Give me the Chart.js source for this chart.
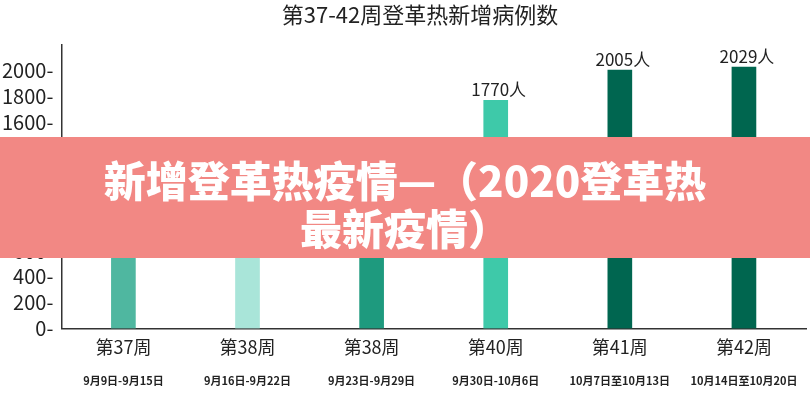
<!DOCTYPE html>
<html><head><meta charset="utf-8">
<script src="https://cdn.jsdelivr.net/npm/chart.js@4"></script>
<style>body{margin:0;background:#fff}#w{width:810px;height:400px}</style>
</head><body><div id="w"><canvas id="c"></canvas></div>
<script>
const weeks = ['第37周','第38周','第38周','第40周','第41周','第42周'];
const dates = ['9月9日-9月15日','9月16日-9月22日','9月23日-9月29日','9月30日-10月6日','10月7日至10月13日','10月14日至10月20日'];
const cases = [1181, 1265, 1330, 1770, 2005, 2029];
const colors = ['#4fb7a0','#a9e5d9','#1e9a7e','#3ec9a9','#006650','#00664f'];
const tickVals = [0,200,400,600,800,1000,1200,1400,1600,1800,2000];
const title = '第37-42周登革热新增病例数';
const bannerLines = ['新增登革热疫情—（2020登革热','最新疫情）'];
const FONT = '"Noto Sans CJK SC", "Noto Sans", sans-serif';

const plug = {
  id:'extra',
  afterDatasetsDraw(ch){
    const c=ch.ctx, x=ch.scales.x;
    c.save();
    c.fillStyle='#222'; c.textAlign='center'; c.textBaseline='bottom';
    c.font='17px '+FONT;
    const meta=ch.getDatasetMeta(0);
    meta.data.forEach((b,i)=>{ c.fillText(cases[i]+'人', b.x+3, b.y-2); });
    c.textBaseline='middle';
    c.font='bold 11px '+FONT;
    dates.forEach((d,i)=>c.fillText(d, x.getPixelForValue(i), 381));
    c.font='22px '+FONT;
    c.fillText(title, 420, 15);
    c.restore();
  },
  afterDraw(ch){
    const c=ch.ctx;
    c.save();
    c.fillStyle='#f28884';
    c.fillRect(0,137,810,121);
    c.fillStyle='#fff'; c.textAlign='center'; c.textBaseline='middle';
    c.font='900 42px '+FONT;
    c.fillText(bannerLines[0],405,181);
    c.fillText(bannerLines[1],405,229);
    c.restore();
  }
};

new Chart(document.getElementById('c'),{
  type:'bar',
  data:{labels:weeks,datasets:[{data:cases,backgroundColor:colors,barThickness:24}]},
  options:{
    responsive:true,maintainAspectRatio:false,animation:false,
    layout:{padding:{top:45,right:4,bottom:34,left:0}},
    plugins:{legend:{display:false},tooltip:{enabled:false}},
    scales:{
      x:{grid:{display:false,drawTicks:false},border:{color:'#333',width:1.5},
        ticks:{color:'#222',font:{size:18,family:FONT},padding:8}},
      y:{min:0,max:2200,afterBuildTicks(s){s.ticks=tickVals.map(v=>({value:v}));},
        grid:{display:false,drawOnChartArea:false,drawTicks:true,tickLength:6,color:'#333'},
        border:{color:'#333',width:1.5},
        ticks:{color:'#222',font:{size:20,family:FONT},padding:2,callback:v=>v+'-'}}
    }
  },
  plugins:[plug]
});
</script></body></html>
